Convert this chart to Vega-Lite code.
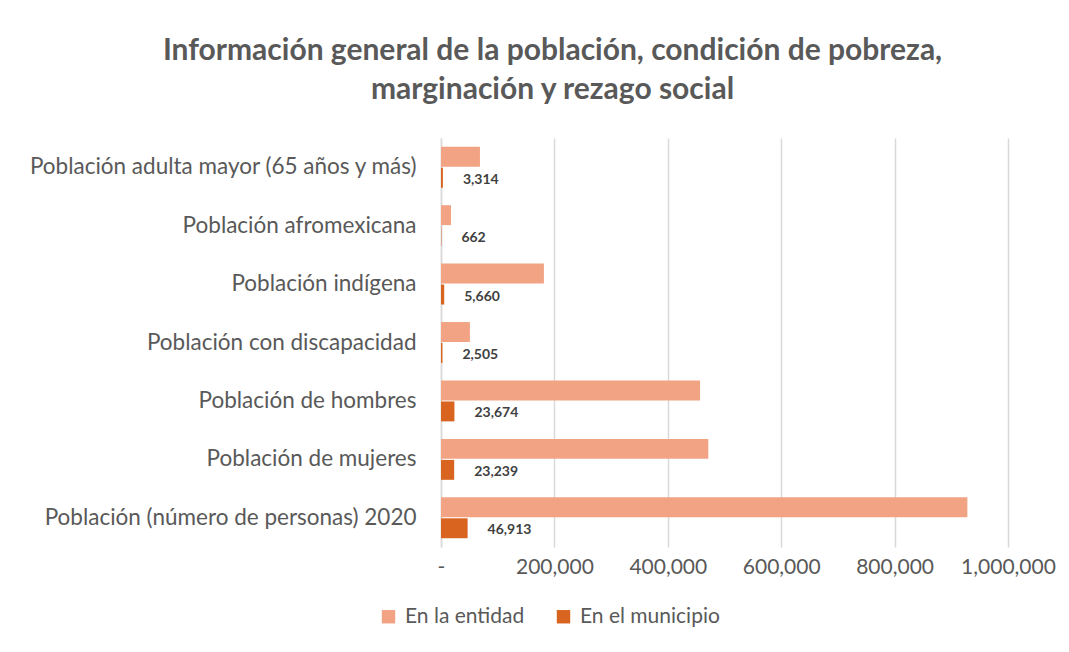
{
  "$schema": "https://vega.github.io/schema/vega-lite/v6.json",
  "autosize": {"type": "none"},
  "padding": {"left": 441, "top": 138, "right": 61, "bottom": 105},
  "width": 567,
  "height": 409,
  "background": "white",
  "title": {
    "text": ["Información general de la población, condición de pobreza,", "marginación y rezago social"],
    "font": "Lato",
    "fontSize": 30,
    "fontWeight": "bold",
    "color": "#595959",
    "anchor": "middle",
    "frame": "group",
    "dx": -172,
    "offset": 33,
    "lineHeight": 39
  },
  "data": {
    "values": [
      {"categoria": "Población adulta mayor (65 años y más)", "serie": "En la entidad", "valor": 68700},
      {"categoria": "Población adulta mayor (65 años y más)", "serie": "En el municipio", "valor": 3314},
      {"categoria": "Población afromexicana", "serie": "En la entidad", "valor": 17700},
      {"categoria": "Población afromexicana", "serie": "En el municipio", "valor": 662},
      {"categoria": "Población indígena", "serie": "En la entidad", "valor": 181500},
      {"categoria": "Población indígena", "serie": "En el municipio", "valor": 5660},
      {"categoria": "Población con discapacidad", "serie": "En la entidad", "valor": 51000},
      {"categoria": "Población con discapacidad", "serie": "En el municipio", "valor": 2505},
      {"categoria": "Población de hombres", "serie": "En la entidad", "valor": 456939},
      {"categoria": "Población de hombres", "serie": "En el municipio", "valor": 23674},
      {"categoria": "Población de mujeres", "serie": "En la entidad", "valor": 471424},
      {"categoria": "Población de mujeres", "serie": "En el municipio", "valor": 23239},
      {"categoria": "Población (número de personas) 2020", "serie": "En la entidad", "valor": 928363},
      {"categoria": "Población (número de personas) 2020", "serie": "En el municipio", "valor": 46913}
    ]
  },
  "encoding": {
    "y": {
      "field": "categoria",
      "type": "nominal",
      "sort": ["Población adulta mayor (65 años y más)", "Población afromexicana", "Población indígena", "Población con discapacidad", "Población de hombres", "Población de mujeres", "Población (número de personas) 2020"],
      "scale": {"paddingInner": 0.3, "paddingOuter": 0.15},
      "axis": {
        "title": null,
        "labelFont": "Lato",
        "labelFontSize": 22.5,
        "labelColor": "#595959",
        "labelPadding": 25,
        "labelLimit": 0,
        "ticks": false,
        "domain": true,
        "domainColor": "#d9d9d9",
        "domainWidth": 1.5,
        "grid": false
      }
    },
    "yOffset": {
      "field": "serie",
      "type": "nominal",
      "sort": ["En la entidad", "En el municipio"],
      "scale": {"paddingInner": 0.05}
    },
    "x": {
      "field": "valor",
      "type": "quantitative",
      "scale": {"domain": [0, 1000000], "nice": false},
      "axis": {
        "title": null,
        "values": [0, 200000, 400000, 600000, 800000, 1000000],
        "labelExpr": "datum.value == 0 ? '-' : format(datum.value, ',')",
        "labelOverlap": false,
        "labelFlush": false,
        "labelFont": "Lato",
        "labelFontSize": 21,
        "labelColor": "#595959",
        "labelPadding": 9,
        "ticks": false,
        "domain": false,
        "grid": true,
        "gridColor": "#d9d9d9",
        "gridWidth": 1.5
      }
    }
  },
  "layer": [
    {
      "mark": {"type": "bar"},
      "encoding": {
        "color": {
          "field": "serie",
          "type": "nominal",
          "sort": ["En la entidad", "En el municipio"],
          "scale": {"domain": ["En la entidad", "En el municipio"], "range": ["#F2A384", "#D8641F"]},
          "legend": {
            "title": null,
            "orient": "none",
            "direction": "horizontal",
            "legendX": -63,
            "legendY": 468,
            "symbolType": "square",
            "symbolSize": 180,
            "symbolStrokeWidth": 0,
            "symbolOpacity": 1,
            "labelFont": "Lato",
            "labelFontSize": 21,
            "labelColor": "#595959",
            "columnPadding": 28,
            "labelOffset": 6
          }
        }
      }
    },
    {
      "transform": [{"filter": "datum.serie == 'En el municipio'"}],
      "mark": {"type": "text", "align": "left", "baseline": "middle", "dx": 20, "dy": 2, "font": "Lato", "fontSize": 14, "fontWeight": "bold", "color": "#404040"},
      "encoding": {
        "text": {"field": "valor", "type": "quantitative", "format": ","}
      }
    }
  ],
  "config": {"view": {"stroke": null}}
}
